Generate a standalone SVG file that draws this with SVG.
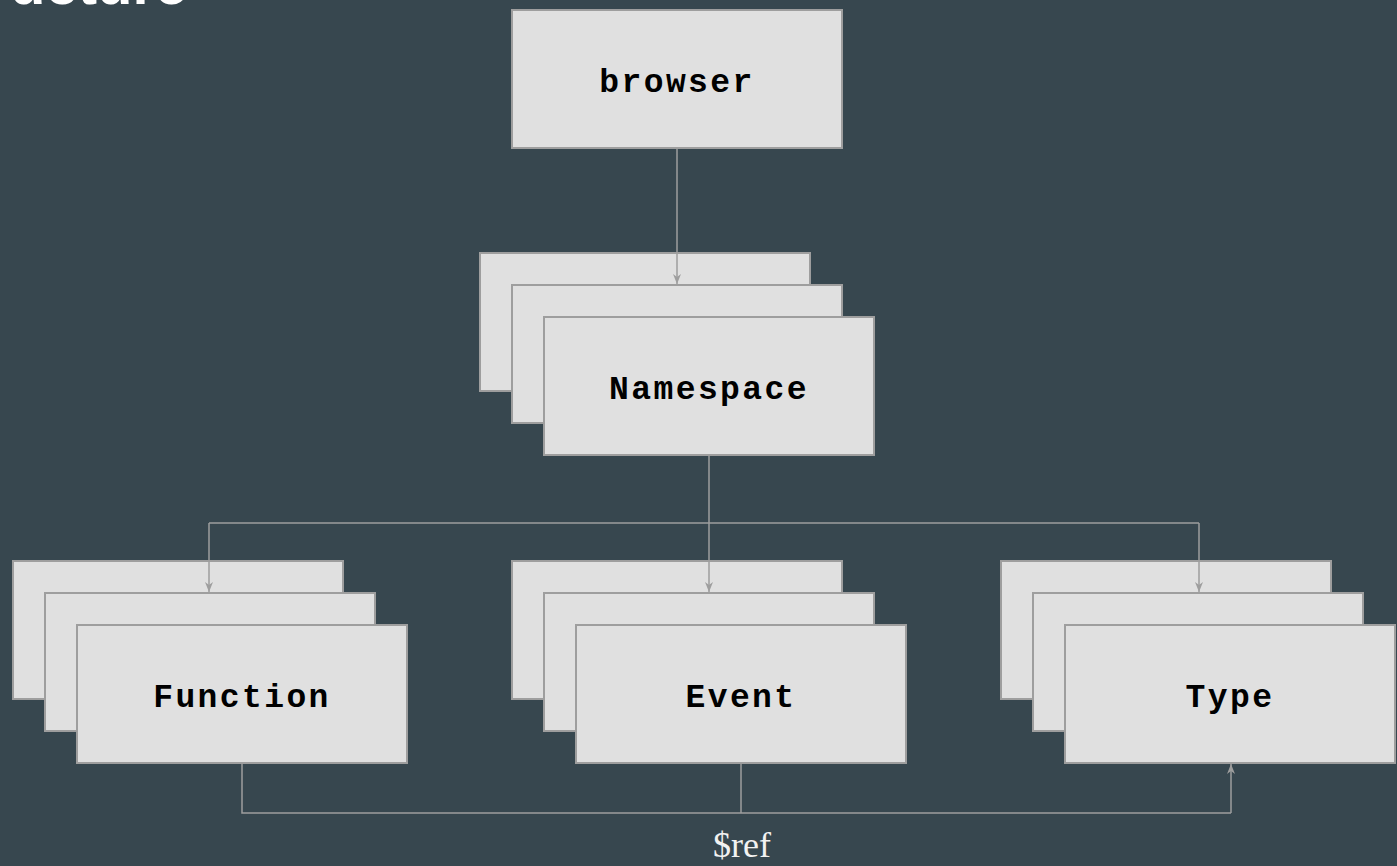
<svg xmlns="http://www.w3.org/2000/svg" width="1397" height="866" viewBox="0 0 1397 866">
  <style>
    .box { fill: #e0e0e0; stroke: #9e9e9e; stroke-width: 2; }
    .lbl { font-family: "Liberation Mono", "Courier New", monospace; font-weight: bold; font-size: 33px; letter-spacing: 2.4px; fill: #000; text-anchor: middle; }
    .wire { fill: none; stroke: #9e9e9e; stroke-width: 1.5; }
    .title { font-family: "Liberation Sans", Arial, sans-serif; font-weight: bold; font-size: 58px; fill: #ffffff; }
    .ref { font-family: "Liberation Serif", "Times New Roman", serif; font-size: 36px; fill: #f2f2f2; text-anchor: middle; }
  </style>
  <defs>
    <marker id="arrow" viewBox="0 0 10 8" markerWidth="10" markerHeight="8" refX="10" refY="4" orient="auto" markerUnits="userSpaceOnUse">
      <path d="M0,0 L10,4 L0,8 L3,4 z" fill="#9e9e9e"/>
    </marker>
    <!-- a stack of three cards, 32px offsets -->
    <g id="stack">
      <rect class="box" x="0" y="0" width="330" height="138"/>
      <rect class="box" x="32" y="32" width="330" height="138"/>
      <rect class="box" x="64" y="64" width="330" height="138"/>
    </g>
  </defs>

  <rect width="1397" height="866" fill="#37474f"/>

  <text class="title" x="10" y="4">ucture</text>

  <g id="browser">
    <rect class="box" x="512" y="10" width="330" height="138"/>
    <text class="lbl" x="677" y="92">browser</text>
  </g>

  <g id="namespace">
    <use href="#stack" x="480" y="253"/>
    <text class="lbl" x="709" y="399">Namespace</text>
  </g>

  <g id="function">
    <use href="#stack" x="13" y="561"/>
    <text class="lbl" x="242" y="707">Function</text>
  </g>

  <g id="event">
    <use href="#stack" x="512" y="561"/>
    <text class="lbl" x="741" y="707">Event</text>
  </g>

  <g id="type">
    <use href="#stack" x="1001" y="561"/>
    <text class="lbl" x="1230" y="707">Type</text>
  </g>

  <g id="connectors">
    <path class="wire" d="M677,148 V284" marker-end="url(#arrow)"/>
    <path class="wire" d="M709,455 V523"/>
    <path class="wire" d="M209,523 H1199"/>
    <path class="wire" d="M209,523 V592" marker-end="url(#arrow)"/>
    <path class="wire" d="M709,523 V592" marker-end="url(#arrow)"/>
    <path class="wire" d="M1199,523 V592" marker-end="url(#arrow)"/>
    <path class="wire" d="M242,763 V813 H1231"/>
    <path class="wire" d="M741,763 V813"/>
    <path class="wire" d="M1231,813 V764" marker-end="url(#arrow)"/>
    <text class="ref" x="742" y="857">$ref</text>
  </g>
</svg>
